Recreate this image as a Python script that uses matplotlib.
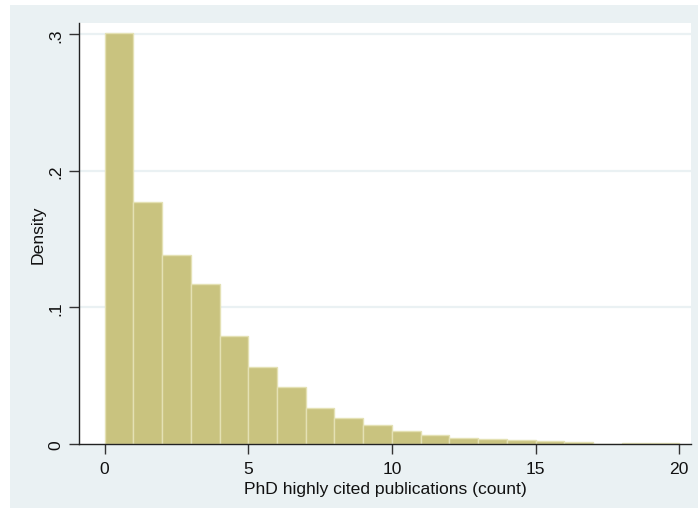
import numpy as np
import matplotlib.pyplot as plt
from matplotlib.patches import Rectangle

plt.rcParams['font.family'] = ['Liberation Sans', 'DejaVu Sans']

# histogram bins (width 1, from 0 to 20) and densities
bin_edges = list(range(0, 21))
density = [0.301, 0.177, 0.1385, 0.1175, 0.079, 0.0562, 0.0415, 0.0266,
           0.0193, 0.0141, 0.0095, 0.0066, 0.0047, 0.0036, 0.0027, 0.0019,
           0.0011, 0.0, 0.0006, 0.0006]
y_ticks = [0, 0.1, 0.2, 0.3]
y_ticklabels = ['0', '.1', '.2', '.3']
x_ticks = [0, 5, 10, 15, 20]

bg = '#EAF1F3'
bar_fill = '#C9C37F'
bar_edge = '#E4E1B4'
fs = 12.6

fig = plt.figure(figsize=(6.98, 5.10), dpi=100, facecolor='white')
# graph region behind the plot
fig.add_artist(Rectangle((10 / 698, 1 / 510), 688 / 698, 503 / 510,
                         transform=fig.transFigure, facecolor=bg,
                         edgecolor='none', zorder=-10))

ax = fig.add_axes([79 / 698, 65 / 510, 612 / 698, 421 / 510])
ax.set_facecolor('white')

lefts = np.array(bin_edges[:-1])
widths = np.diff(bin_edges)
ax.bar(lefts, density, width=widths, align='edge', color=bar_fill,
       edgecolor=bar_edge, linewidth=1.0, zorder=2)

ax.set_xlim(-0.894, 20.41)
ax.set_ylim(0, 0.3084)

ax.set_yticks(y_ticks)
ax.set_yticklabels(y_ticklabels, rotation=90, va='center')
ax.set_xticks(x_ticks)

for y in y_ticks[1:]:
    ax.axhline(y, color=bg, linewidth=1.6, zorder=1)

for side in ['top', 'right']:
    ax.spines[side].set_visible(False)
for side in ['left', 'bottom']:
    ax.spines[side].set_color('#222222')
    ax.spines[side].set_linewidth(1.0)
    ax.spines[side].set_zorder(3)

ax.tick_params(axis='both', direction='out', length=7, width=1.0,
               color='#333333', labelsize=fs, labelcolor='#111111', pad=5)
ax.tick_params(axis='y', pad=4)

ax.set_ylabel('Density', fontsize=fs, color='#111111', labelpad=2)
ax.set_xlabel('PhD highly cited publications (count)', fontsize=fs,
              color='#111111', labelpad=4)

fig.savefig('out.png', dpi=100)
